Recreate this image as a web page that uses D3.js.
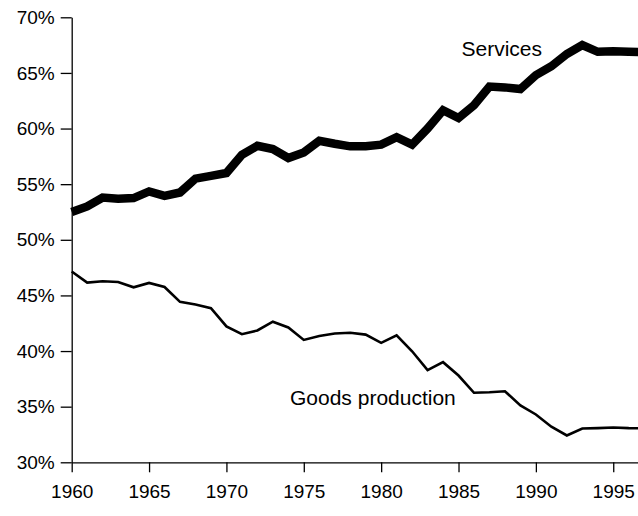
<!DOCTYPE html>
<html>
<head>
<meta charset="utf-8">
<script src="https://cdn.jsdelivr.net/npm/d3@7"></script>
<style>
  body { margin: 0; background: #fff; }
  svg { display: block; font-family: "Liberation Sans", Arial, sans-serif; }
</style>
</head>
<body>
<div id="chart"></div>
<script>
// Years and shares of employment (percent)
const years = d3.range(1960, 1998);
const services = [52.5, 53.0, 53.8, 53.7, 53.75, 54.35, 53.95, 54.25, 55.5, 55.75,
                  56.0, 57.65, 58.45, 58.15, 57.35, 57.85, 58.9, 58.63, 58.4, 58.4,
                  58.55, 59.23, 58.55, 60.0, 61.65, 60.95, 62.1, 63.77, 63.7, 63.55,
                  64.8, 65.6, 66.7, 67.5, 66.9, 66.95, 66.9, 66.85];
const goods = [47.15, 46.15, 46.27, 46.2, 45.73, 46.12, 45.76, 44.42, 44.18, 43.85,
               42.21, 41.52, 41.85, 42.64, 42.12, 41.0, 41.36, 41.58, 41.64, 41.48,
               40.74, 41.42, 39.98, 38.28, 39.0, 37.8, 36.25, 36.3, 36.39, 35.11,
               34.3, 33.2, 32.41, 33.04, 33.07, 33.13, 33.07, 33.05];
const xTicks = [1960, 1965, 1970, 1975, 1980, 1985, 1990, 1995];
const yTicks = [30, 35, 40, 45, 50, 55, 60, 65, 70];

const width = 638, height = 516;

const svg = d3.select("#chart")
    .append("svg")
    .attr("width", width)
    .attr("height", height);

// Scales
const x = d3.scaleLinear()
    .domain([1960, 1996.6])
    .range([71.7, 638]);

const y = d3.scaleLinear()
    .domain([30, 70])
    .range([462.3, 17.3]);

// x-axis
const xAxis = svg.append("g")
    .attr("transform", `translate(0,${y(30)})`)
    .call(d3.axisBottom(x).tickValues(xTicks).tickFormat(d3.format("d"))
        .tickSize(10).tickSizeOuter(0).tickPadding(12));

// y-axis
const yAxis = svg.append("g")
    .attr("transform", `translate(${x(1960)},0)`)
    .call(d3.axisLeft(y).tickValues(yTicks).tickFormat(d => d + "%")
        .tickSize(11).tickSizeOuter(0).tickPadding(6));

[xAxis, yAxis].forEach(g => {
    g.select(".domain").attr("stroke", "#000").attr("stroke-width", 1.3);
    g.selectAll(".tick line").attr("stroke", "#000").attr("stroke-width", 1.3);
    g.selectAll(".tick text")
        .attr("fill", "#000")
        .style("font-size", "19px")
        .style("font-family", "'Liberation Sans', Arial, sans-serif");
});

// Lines
const line = d3.line()
    .x((d, i) => x(years[i]))
    .y(d => y(d));

svg.append("path")
    .datum(services)
    .attr("fill", "none")
    .attr("stroke", "#000")
    .attr("stroke-width", 8.5)
    .attr("d", line);

svg.append("path")
    .datum(goods)
    .attr("fill", "none")
    .attr("stroke", "#000")
    .attr("stroke-width", 2.6)
    .attr("d", line);

// Series labels
svg.append("text")
    .attr("x", 461.5)
    .attr("y", 56)
    .style("font-size", "21px")
    .text("Services");

svg.append("text")
    .attr("x", 290)
    .attr("y", 405)
    .style("font-size", "21px")
    .text("Goods production");
</script>
</body>
</html>
